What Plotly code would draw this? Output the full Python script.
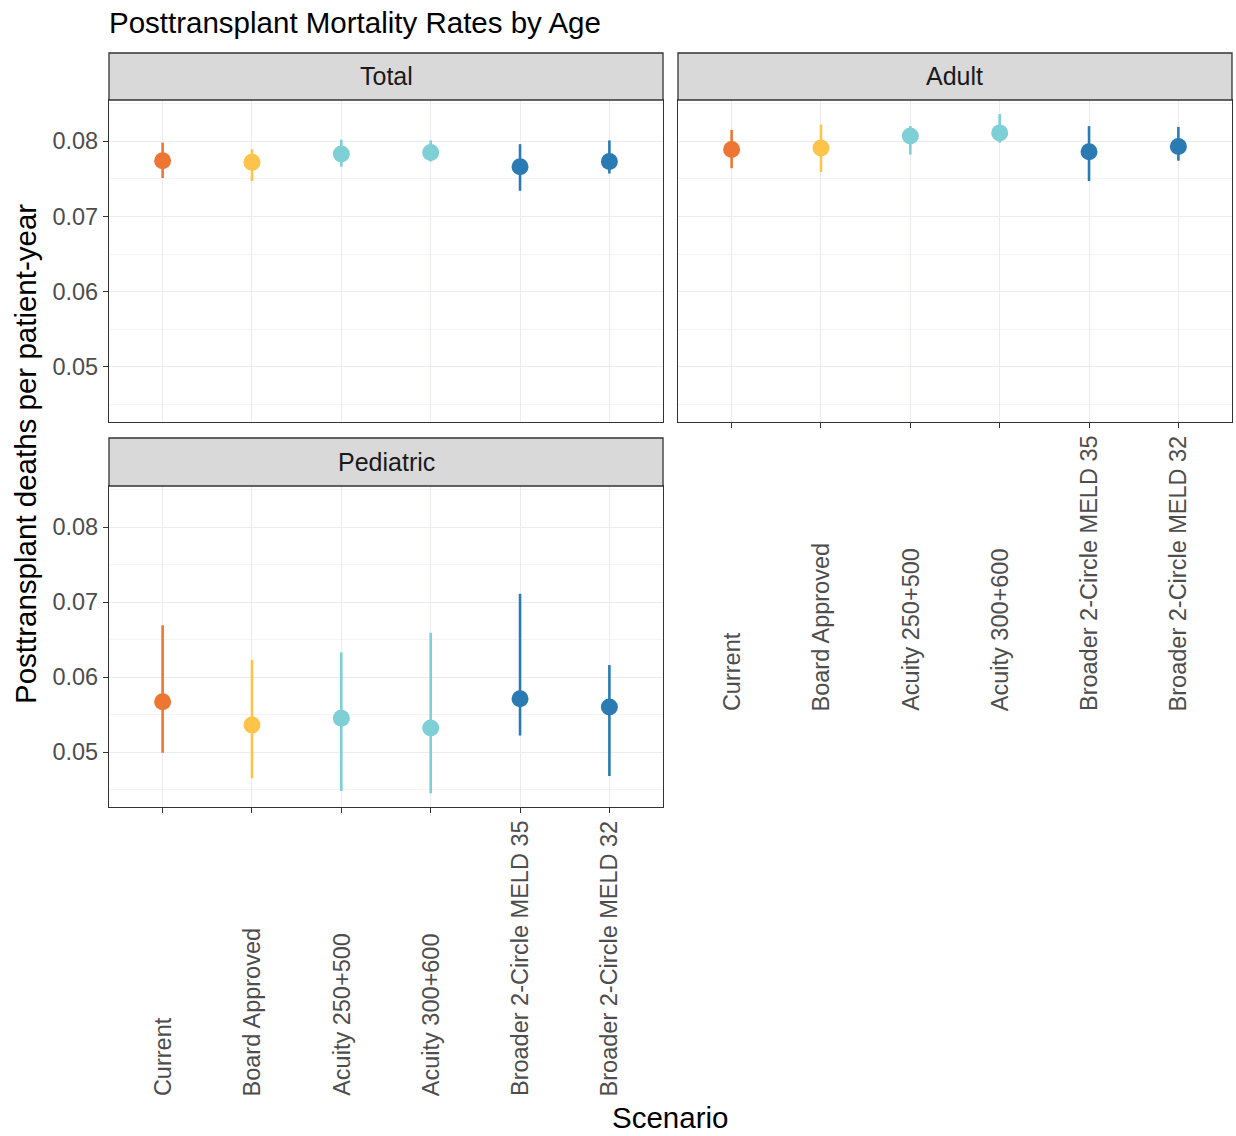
import plotly.graph_objects as go

scenarios = ["Current", "Board Approved", "Acuity 250+500", "Acuity 300+600",
             "Broader 2-Circle MELD 35", "Broader 2-Circle MELD 32"]
colors = ["#EE7633", "#FDC449", "#7FCFD6", "#7FCFD6", "#2A7BB3", "#2A7BB3"]

total_mean = [0.0774, 0.0772, 0.0783, 0.0785, 0.0766, 0.0773]
total_lo = [0.0751, 0.0747, 0.0766, 0.0773, 0.0734, 0.0757]
total_hi = [0.0798, 0.0789, 0.0802, 0.0801, 0.0796, 0.0801]

adult_mean = [0.0789, 0.0791, 0.0807, 0.0811, 0.0786, 0.0793]
adult_lo = [0.0764, 0.0759, 0.0782, 0.0798, 0.0747, 0.0774]
adult_hi = [0.0815, 0.0822, 0.0820, 0.0836, 0.0820, 0.0819]

ped_mean = [0.0567, 0.0536, 0.0545, 0.0532, 0.0571, 0.0560]
ped_lo = [0.0499, 0.0465, 0.0448, 0.0445, 0.0522, 0.0468]
ped_hi = [0.0669, 0.0623, 0.0633, 0.0659, 0.0711, 0.0616]

panels = [("Total", total_mean, total_lo, total_hi, "x", "y"),
          ("Adult", adult_mean, adult_lo, adult_hi, "x2", "y2"),
          ("Pediatric", ped_mean, ped_lo, ped_hi, "x3", "y3")]

W, H = 1236, 1136
def px(x): return x / W
def py(y): return 1 - y / H

FONT = "Liberation Sans, Arial, sans-serif"
fig = go.Figure()
for name, m, lo, hi, xa, ya in panels:
    for i, s in enumerate(scenarios):
        fig.add_trace(go.Scatter(
            x=[s], y=[m[i]], mode="markers", xaxis=xa, yaxis=ya,
            marker=dict(color=colors[i], size=17),
            error_y=dict(type="data", symmetric=False,
                         array=[hi[i] - m[i]], arrayminus=[m[i] - lo[i]],
                         color=colors[i], thickness=2.6, width=0),
            showlegend=False, hoverinfo="x+y"))

yrange = [0.04267, 0.08547]
grid_major = "#EBEBF0"
grid_minor = "#F4F4F6"
def xaxis(domain, anchor, show_ticks):
    return dict(domain=domain, anchor=anchor, type="category",
                categoryorder="array", categoryarray=scenarios,
                range=[-0.6, 5.6], showgrid=True, gridcolor=grid_major, gridwidth=1.3,
                showline=True, linecolor="#333333", linewidth=1.3, mirror=True,
                ticks="outside" if show_ticks else "", ticklen=5, tickcolor="#333333",
                showticklabels=False, zeroline=False)
def yaxis(domain, anchor, show_labels):
    return dict(domain=domain, anchor=anchor, range=yrange,
                tick0=0, dtick=0.01, tickformat=".2f",
                showgrid=True, gridcolor=grid_major, gridwidth=1.3,
                minor=dict(dtick=0.005, tick0=0, showgrid=True, gridcolor=grid_minor, gridwidth=0.8),
                showline=True, linecolor="#333333", linewidth=1.3, mirror=True,
                ticks="outside" if show_labels else "", ticklen=5, tickcolor="#333333",
                showticklabels=show_labels,
                tickfont=dict(family=FONT, size=23.5, color="#4D4D4D"), zeroline=False)

xd_left = [px(109), px(663)]
xd_right = [px(678), px(1232)]
yd_top = [py(422), py(100)]
yd_bot = [py(807), py(486)]

fig.update_layout(
    width=W, height=H, margin=dict(l=0, r=0, t=0, b=0),
    paper_bgcolor="white", plot_bgcolor="white",
    xaxis=xaxis(xd_left, "y", False), yaxis=yaxis(yd_top, "x", True),
    xaxis2=xaxis(xd_right, "y2", True), yaxis2=yaxis(yd_top, "x2", False),
    xaxis3=xaxis(xd_left, "y3", True), yaxis3=yaxis(yd_bot, "x3", True),
)

# x tick labels, bottom-justified like ggplot's angle=90, hjust=0
for xref, base in [("x2", 713), ("x3", 1098)]:
    for s in scenarios:
        fig.add_annotation(text=s, xref=xref, yref="paper", x=s, y=py(base),
                           xanchor="center", yanchor="bottom", textangle=-90,
                           showarrow=False,
                           font=dict(family=FONT, size=23.5, color="#4D4D4D"))

strips = [("Total", 109, 663, 53, 100), ("Adult", 678, 1232, 53, 100),
          ("Pediatric", 109, 663, 438, 486)]
for label, x0, x1, y0, y1 in strips:
    fig.add_shape(type="rect", xref="paper", yref="paper",
                  x0=px(x0), x1=px(x1), y0=py(y1), y1=py(y0),
                  fillcolor="#D9D9D9", line=dict(color="#333333", width=1.3))
    fig.add_annotation(text=label, xref="paper", yref="paper",
                       x=px((x0 + x1) / 2), y=py((y0 + y1) / 2), showarrow=False,
                       xanchor="center", yanchor="middle",
                       font=dict(family=FONT, size=25, color="#1A1A1A"))

fig.add_annotation(text="Posttransplant Mortality Rates by Age", xref="paper", yref="paper",
                   x=px(107), y=py(22), xanchor="left", yanchor="middle", showarrow=False,
                   font=dict(family=FONT, size=29.5, color="black"))
fig.add_annotation(text="Scenario", xref="paper", yref="paper",
                   x=px(670), y=py(1117), xanchor="center", yanchor="middle", showarrow=False,
                   font=dict(family=FONT, size=29.5, color="black"))
fig.add_annotation(text="Posttransplant deaths per patient-year", xref="paper", yref="paper",
                   x=px(25), y=py(454), xanchor="center", yanchor="middle", showarrow=False,
                   textangle=-90, font=dict(family=FONT, size=29.5, color="black"))

fig.write_html("out.html", config={"displayModeBar": False},
               post_script="document.body.style.margin='0';")
